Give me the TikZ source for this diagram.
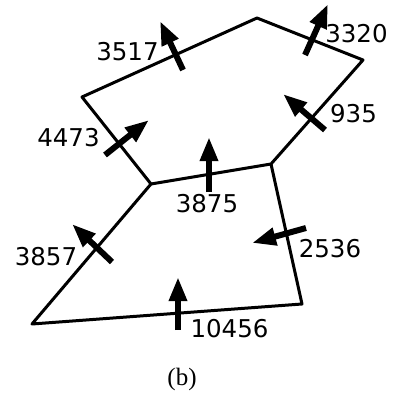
\documentclass[tikz,border=0pt]{standalone}
\usepackage{fontspec}
\setmainfont{Liberation Serif}
\newfontfamily\numfont{DejaVu Sans}
\usetikzlibrary{arrows.meta,positioning}

\begin{document}
\begin{tikzpicture}[x=1pt,y=-1pt,>={Triangle[length=24pt,width=17pt]},
  flux/.style={->,line width=6pt},
  edge/.style={line width=3pt,line join=round},
  num/.style={font=\numfont\fontsize{24.5}{24.5}\selectfont,inner sep=0pt}]
\useasboundingbox (0,0) rectangle (394,396);
% corners of the two cells
\coordinate (A) at (82,97);
\coordinate (B) at (257,18);
\coordinate (C) at (363,60);
\coordinate (D) at (271,164);
\coordinate (E) at (151,184);
\coordinate (F) at (302,304);
\coordinate (G) at (32,324);
\draw[edge] (A)--(B)--(C)--(D)--(E)--cycle;
\draw[edge] (D)--(F)--(G)--(E);
% flux arrows: tail (t) and head (h)
\coordinate (at) at (183,70);  \coordinate (ah) at (160,21);
\coordinate (bt) at (305,55);  \coordinate (bh) at (328,4);
\coordinate (ct) at (105,155); \coordinate (ch) at (149,120);
\coordinate (dt) at (325,130); \coordinate (dh) at (283,94);
\coordinate (et) at (209,192); \coordinate (eh) at (209,137);
\coordinate (ft) at (112,262); \coordinate (fh) at (72,224);
\coordinate (gt) at (306,228); \coordinate (gh) at (252,243);
\coordinate (kt) at (178,330); \coordinate (kh) at (178,277);
\foreach \q in {a,b,c,d,e,f,g,k}{\draw[flux] (\q t)--(\q h);}
% flux values
\foreach \q/\x/\y/\v in {a/127.5/51.5/3517,b/356.5/34/3320,c/68.5/137.5/4473,d/353.5/114/935,
  e/207/204/3875,f/46/257/3857,g/330/249/2536,k/229.5/329/10456}
  {\node[num] (\q lab) at (\x,\y) {\v};}
\node[font=\fontsize{25}{25}\selectfont,inner sep=0pt] (cap) at (182,379) {(b)};
\end{tikzpicture}
\end{document}
